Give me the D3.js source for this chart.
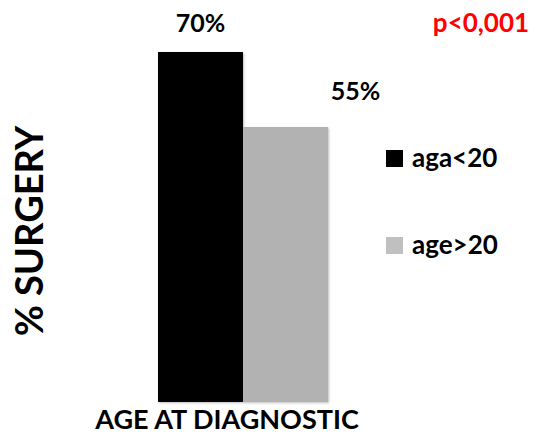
<!DOCTYPE html>
<html>
<head>
<meta charset="utf-8">
<script src="https://cdn.jsdelivr.net/npm/d3@7"></script>
<style>
  html, body { margin: 0; padding: 0; background: #fff; }
  svg text { font-family: Lato, "Open Sans", sans-serif; font-weight: bold; }
</style>
</head>
<body>
<svg id="chart" width="539" height="435"></svg>
<script>
// Share of patients operated, by age at diagnosis
const groups = ["aga<20", "age>20"];
const surgeryPct = [70, 55];
const barColors = ["#000000", "#b2b2b2"];
const legendColors = ["#000000", "#c0c0c0"];
const pValueLabel = "p<0,001";

const svg = d3.select("#chart");

const x = d3.scaleBand().domain(groups).range([158, 328]).paddingInner(0).paddingOuter(0);
const y = d3.scaleLinear().domain([0, 70]).range([402, 52]);

// subtle drop shadow behind the bars
const defs = svg.append("defs");
const f = defs.append("filter").attr("id", "shadow").attr("x", "-10%").attr("y", "-10%").attr("width", "130%").attr("height", "130%");
f.append("feDropShadow").attr("dx", 1).attr("dy", 1).attr("stdDeviation", 1.2).attr("flood-color", "#000").attr("flood-opacity", 0.25);

svg.append("g").attr("filter", "url(#shadow)")
  .selectAll("rect").data(groups).join("rect")
  .attr("x", d => x(d))
  .attr("y", (d, i) => y(surgeryPct[i]))
  .attr("width", x.bandwidth())
  .attr("height", (d, i) => y(0) - y(surgeryPct[i]))
  .attr("fill", (d, i) => barColors[i]);

// value labels
const labelPos = [
  { dx: 0, dy: -20 },
  { dx: 70, dy: -27 }
];
svg.selectAll("text.val").data(groups).join("text")
  .attr("class", "val")
  .attr("x", (d, i) => x(d) + x.bandwidth() / 2 + labelPos[i].dx)
  .attr("y", (d, i) => y(surgeryPct[i]) + labelPos[i].dy)
  .attr("text-anchor", "middle")
  .attr("font-size", 25)
  .attr("fill", "#000")
  .text((d, i) => surgeryPct[i] + "%");

// significance
svg.append("text")
  .attr("x", 481).attr("y", 32)
  .attr("text-anchor", "middle")
  .attr("font-size", 26)
  .attr("fill", "#ff0000")
  .text(pValueLabel);

// legend
const legendY = [150, 237];
const lg = svg.selectAll("g.leg").data(groups).join("g")
  .attr("class", "leg")
  .attr("transform", (d, i) => `translate(386,${legendY[i]})`);
lg.append("rect").attr("width", 17).attr("height", 17).attr("fill", (d, i) => legendColors[i]);
lg.append("text").attr("x", 26).attr("y", 17).attr("font-size", 26).attr("fill", "#000").text(d => d);

// axis titles
svg.append("text")
  .attr("transform", "translate(43,231) rotate(-90)")
  .attr("text-anchor", "middle")
  .attr("font-size", 38)
  .attr("fill", "#000")
  .text("% SURGERY");

svg.append("text")
  .attr("x", 227).attr("y", 429)
  .attr("text-anchor", "middle")
  .attr("font-size", 27)
  .attr("fill", "#000")
  .text("AGE AT DIAGNOSTIC");
</script>
</body>
</html>
